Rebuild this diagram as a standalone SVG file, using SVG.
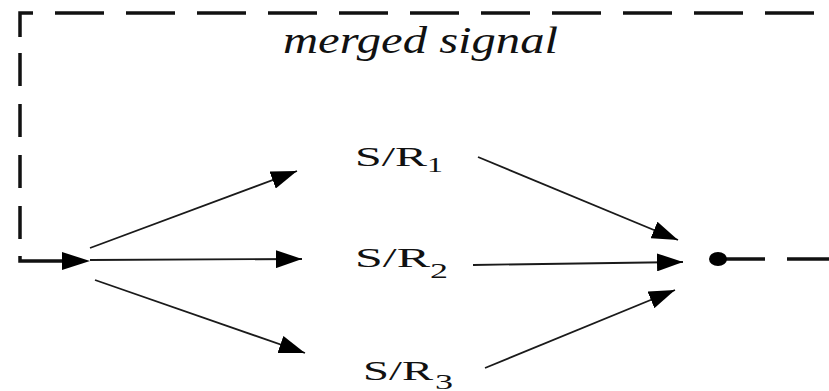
<svg xmlns="http://www.w3.org/2000/svg" width="829" height="391" viewBox="0 0 829 391">
  <style>
    .loop { fill: none; stroke: #111; stroke-width: 3.5; }
    .hdash { stroke-dasharray: 49 22; }
    .vdash { stroke-dasharray: 33 18; }
    .link { fill: none; stroke: #1a1a1a; stroke-width: 1.8; marker-end: url(#head); }
    .lbl { font-family: "Liberation Serif", "DejaVu Serif", serif; fill: #111; }
    .cap { font-family: "Liberation Serif", "DejaVu Serif", serif; fill: #111; font-style: italic; }
  </style>
  <defs>
    <marker id="head" markerUnits="userSpaceOnUse" markerWidth="26" markerHeight="18" refX="26" refY="9" orient="auto">
      <path d="M0,0 L26,9 L0,18 z" fill="#000"/>
    </marker>
  </defs>
  <rect width="829" height="391" fill="#fff"/>

  <!-- feedback loop of the merged signal (dashed) -->
  <g id="feedback">
    <path class="loop" d="M718 259 H765"/>
    <path class="loop hdash" d="M787 259 H860"/>
    <path class="loop hdash" d="M55 13 H860"/>
    <path class="loop" d="M20 37 V13 H33"/>
    <path class="loop vdash" d="M20 53 V240"/>
    <path class="loop" d="M20 256 V261 H62"/>
    <polygon points="62,252 90,261 62,270" fill="#000"/>
    <text class="cap" x="283" y="53" font-size="37" textLength="275" lengthAdjust="spacingAndGlyphs">merged signal</text>
  </g>

  <!-- merge point -->
  <g id="merge">
    <ellipse cx="718" cy="259" rx="9" ry="7" fill="#000"/>
  </g>

  <!-- relays -->
  <g id="sr1">
    <text class="lbl" x="355" y="166" font-size="27" textLength="72" lengthAdjust="spacingAndGlyphs">S/R</text>
    <text class="lbl" x="427" y="172" font-size="22" textLength="16" lengthAdjust="spacingAndGlyphs">1</text>
  </g>
  <g id="sr2">
    <text class="lbl" x="355" y="267" font-size="27" textLength="75" lengthAdjust="spacingAndGlyphs">S/R</text>
    <text class="lbl" x="430" y="278" font-size="22" textLength="18" lengthAdjust="spacingAndGlyphs">2</text>
  </g>
  <g id="sr3">
    <text class="lbl" x="363" y="380" font-size="27" textLength="70" lengthAdjust="spacingAndGlyphs">S/R</text>
    <text class="lbl" x="435" y="389" font-size="22" textLength="18" lengthAdjust="spacingAndGlyphs">3</text>
  </g>

  <!-- connectors -->
  <g id="connectors">
    <path class="link" d="M90 248 L297 171"/>
    <path class="link" d="M90 260 L302 259"/>
    <path class="link" d="M95 280 L305 353"/>
    <path class="link" d="M478 157 L678 240"/>
    <path class="link" d="M473 265 L683 262"/>
    <path class="link" d="M485 368 L675 290"/>
  </g>
</svg>
